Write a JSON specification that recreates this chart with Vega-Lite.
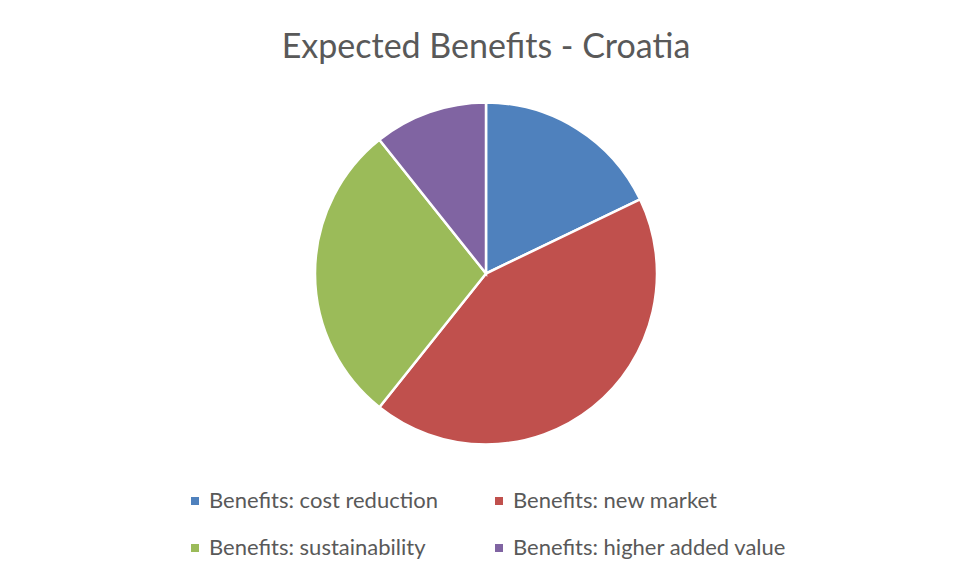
{
  "$schema": "https://vega.github.io/schema/vega-lite/v6.json",
  "width": 940,
  "height": 547,
  "autosize": "none",
  "padding": {"left": 16, "top": 0, "right": 0, "bottom": 30},
  "background": "white",
  "title": {
    "text": "Expected Benefits - Croatia",
    "anchor": "middle",
    "frame": "group",
    "orient": "top",
    "baseline": "alphabetic",
    "offset": -92,
    "font": "Lato",
    "fontSize": 34,
    "fontWeight": "normal",
    "color": "#595959"
  },
  "data": {
    "values": [
      {"category": "Benefits: cost reduction", "count": 5, "seriesOrder": 1},
      {"category": "Benefits: new market", "count": 12, "seriesOrder": 2},
      {"category": "Benefits: sustainability", "count": 8, "seriesOrder": 3},
      {"category": "Benefits: higher added value", "count": 3, "seriesOrder": 4}
    ]
  },
  "mark": {"type": "arc", "outerRadius": 171, "stroke": "white", "strokeWidth": 2.5},
  "encoding": {
    "theta": {"field": "count", "type": "quantitative", "stack": true},
    "order": {"field": "seriesOrder", "type": "quantitative", "sort": "ascending"},
    "color": {
      "field": "category",
      "type": "nominal",
      "sort": null,
      "scale": {
        "domain": ["Benefits: cost reduction", "Benefits: new market", "Benefits: sustainability", "Benefits: higher added value"],
        "range": ["#4F81BD", "#C0504D", "#9BBB59", "#8064A2"]
      },
      "legend": {
        "title": null,
        "orient": "none",
        "direction": "horizontal",
        "legendX": 168,
        "legendY": 490,
        "columns": 2,
        "columnPadding": 50,
        "rowPadding": 25,
        "padding": 0,
        "symbolType": "square",
        "symbolSize": 64,
        "symbolStrokeWidth": 0,
        "labelOffset": 3,
        "labelFont": "Lato",
        "labelFontSize": 22,
        "labelColor": "#595959",
        "labelLimit": 400
      }
    }
  },
  "config": {"view": {"stroke": null}}
}
